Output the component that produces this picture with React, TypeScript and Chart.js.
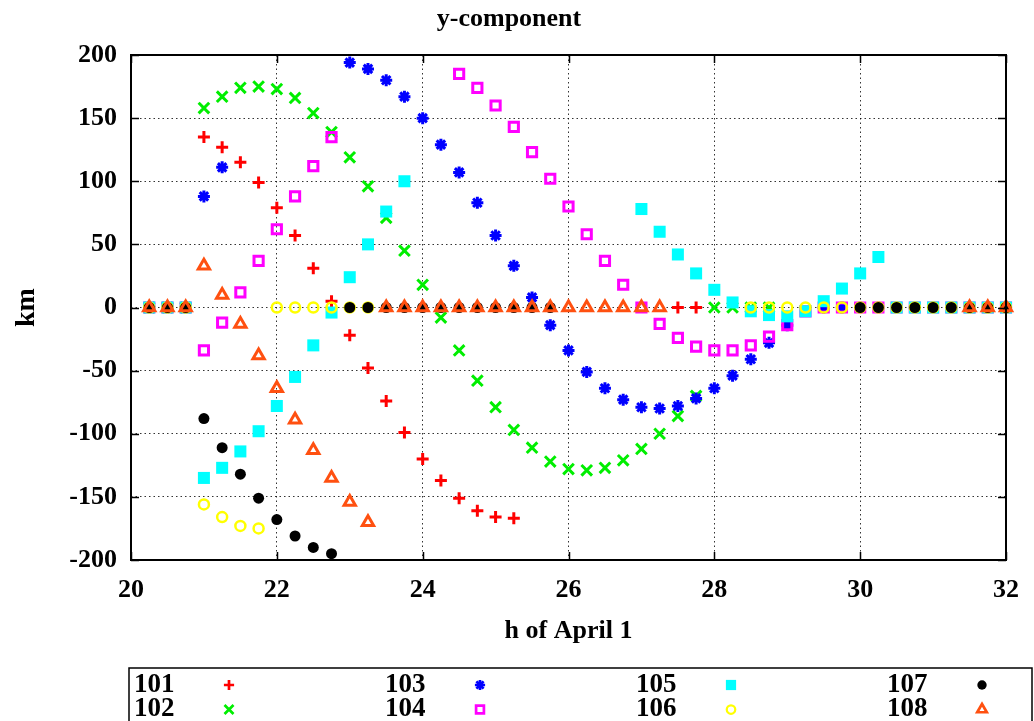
import React, { useEffect, useRef } from 'react';
import { Chart, registerables } from 'chart.js';
import { drawPoint } from 'chart.js/helpers';

Chart.register(...registerables);

// hours of April 1 (sample times)
const hours = [
  20.25, 20.5, 20.75, 21, 21.25, 21.5, 21.75, 22, 22.25, 22.5, 22.75, 23,
  23.25, 23.5, 23.75, 24, 24.25, 24.5, 24.75, 25, 25.25, 25.5, 25.75, 26,
  26.25, 26.5, 26.75, 27, 27.25, 27.5, 27.75, 28, 28.25, 28.5, 28.75, 29,
  29.25, 29.5, 29.75, 30, 30.25, 30.5, 30.75, 31, 31.25, 31.5, 31.75, 32,
];

const N = null;

const s101 = [0, 0, 0, 135, 127, 115, 99, 79, 57, 31, 5, -22, -48, -74, -99, -120, -137, -151, -161, -166, -167,
  N, N, N, N, N, N, N, N, 0, 0, N, N, N, N, N, N, N, N, N, N, N, N, N, N, N, N, N];
const s102 = [0, 0, 0, 158, 167, 174, 175, 173, 166, 154, 139, 119, 96, 71, 45, 18, -8, -34, -58, -79, -97,
  -111, -122, -128, -129, -127, -121, -112, -100, -86, -70, 0, 0, 0, 0, N, N, N, N, N, N, N, N, N, N, N, N, N];
const s103 = [0, 0, 0, 88, 111, N, N, N, N, N, N, 194, 189, 180, 167, 150, 129, 107, 83, 57, 33, 8, -14, -34,
  -51, -64, -73, -79, -80, -78, -72, -64, -54, -41, -28, -14, N, 0, 0, 0, 0, 0, 0, 0, 0, 0, 0, 0];
const s104 = [0, 0, 0, -34, -12, 12, 37, 62, 88, 112, 135, N, N, N, N, N, N, 185, 174, 160, 143, 123, 102, 80,
  58, 37, 18, 0, -13, -24, -31, -34, -34, -30, -23, -14, -3, 0, 0, 0, 0, 0, 0, 0, 0, 0, 0, 0];
const s105 = [0, 0, 0, -135, -127, -114, -98, -78, -55, -30, -4, 24, 50, 76, 100, N, N, N, N, N, N, N, N, N,
  N, N, N, 78, 60, 42, 27, 14, 4, -3, -6, -7, -3, 5, 15, 27, 40, 0, 0, 0, 0, 0, 0, 0];
const s106 = [0, 0, 0, -156, -166, -173, -175, 0, 0, 0, 0, 0, 0, N, N, N, N, N, N, N, N, N, N, N,
  N, N, N, N, N, N, N, N, N, 0, 0, 0, 0, 0, 0, 0, 0, 0, 0, 0, 0, 0, 0, 0];
const s107 = [0, 0, 0, -88, -111, -132, -151, -168, -181, -190, -195, 0, 0, 0, 0, 0, 0, 0, 0, 0, 0, 0, 0, N,
  N, N, N, N, N, N, N, N, N, N, N, N, N, N, N, 0, 0, 0, 0, 0, 0, 0, 0, 0];
const s108 = [0, 0, 0, 33, 10, -13, -38, -64, -89, -113, -135, -154, -170, 0, 0, 0, 0, 0, 0, 0, 0, 0, 0, 0,
  0, 0, 0, 0, 0, N, N, N, N, N, N, N, N, N, N, N, N, N, N, N, N, 0, 0, 0];

const seriesNames = ['101', '102', '103', '104', '105', '106', '107', '108'];
const seriesValues = [s101, s102, s103, s104, s105, s106, s107, s108];
const seriesColors = ['#ff0000', '#00ee00', '#0000ff', '#ff00ff', '#00ffff', '#ffff00', '#000000', '#ff5010'];

const xTicks = [20, 22, 24, 26, 28, 30, 32];
const yTicks = [-200, -150, -100, -50, 0, 50, 100, 150, 200];

const chartTitle = 'y-component';
const xTitle = 'h of April 1';
const yTitle = 'km';

const FONT = "'Liberation Serif', 'Times New Roman', serif";

const markerStyles = [
  { pointStyle: 'cross', radius: 6, borderWidth: 3, fill: false },
  { pointStyle: 'crossRot', radius: 7.5, borderWidth: 3, fill: false },
  { pointStyle: 'star', radius: 6, borderWidth: 3, fill: false },
  { pointStyle: 'rect', radius: 6.5, borderWidth: 3, fill: false },
  { pointStyle: 'rect', radius: 8.5, borderWidth: 0, fill: true },
  { pointStyle: 'circle', radius: 5, borderWidth: 2.5, fill: false },
  { pointStyle: 'circle', radius: 5.5, borderWidth: 0, fill: true },
  { pointStyle: 'triangle', radius: 6.5, borderWidth: 3, fill: false },
];

const legendMarkerScale = 0.85;

const framePlugin = {
  id: 'frame',
  afterDraw(chart: any) {
    const { ctx, chartArea } = chart;
    const { left, right, top, bottom } = chartArea;
    const xs = chart.scales.x;
    const ys = chart.scales.y;
    ctx.save();
    ctx.strokeStyle = '#000';
    ctx.lineWidth = 1.5;
    ctx.beginPath();
    xTicks.forEach((v) => {
      const px = Math.round(xs.getPixelForValue(v)) + 0.5;
      ctx.moveTo(px, bottom);
      ctx.lineTo(px, bottom - 8);
      ctx.moveTo(px, top);
      ctx.lineTo(px, top + 8);
    });
    yTicks.forEach((v) => {
      const py = Math.round(ys.getPixelForValue(v)) + 0.5;
      ctx.moveTo(left, py);
      ctx.lineTo(left + 8, py);
      ctx.moveTo(right, py);
      ctx.lineTo(right - 8, py);
    });
    ctx.stroke();
    ctx.lineWidth = 2;
    ctx.strokeRect(left, top, right - left, bottom - top);
    ctx.restore();
  },
};

const legendPlugin = {
  id: 'boxLegend',
  afterDraw(chart: any) {
    const { ctx } = chart;
    ctx.save();
    ctx.strokeStyle = '#000';
    ctx.lineWidth = 1.5;
    ctx.strokeRect(129, 668, 903, 70);
    ctx.font = `bold 27px ${FONT}`;
    ctx.textBaseline = 'middle';
    ctx.textAlign = 'left';
    chart.data.datasets.forEach((ds: any, i: number) => {
      const col = Math.floor(i / 2);
      const row = i % 2;
      const x0 = 134 + col * 251;
      const y = 685 + row * 24.5;
      ctx.fillStyle = '#000';
      ctx.fillText(ds.label, x0, y);
      const st = markerStyles[i];
      ctx.strokeStyle = seriesColors[i];
      ctx.fillStyle = st.fill ? seriesColors[i] : 'rgba(0,0,0,0)';
      ctx.lineWidth = st.borderWidth * 0.9;
      drawPoint(ctx, { pointStyle: st.pointStyle, radius: st.radius * legendMarkerScale, borderWidth: st.borderWidth, rotation: 0 } as any, x0 + 95, y);
    });
    ctx.restore();
  },
};

export default function App() {
  const ref = useRef<HTMLCanvasElement>(null);
  useEffect(() => {
    document.body.style.margin = '0';
    if (!ref.current) return;
    const datasets = seriesNames.map((name, i) => {
      const st = markerStyles[i];
      const ys = seriesValues[i];
      return {
        label: name,
        data: hours.map((h, k) => ({ x: h, y: ys[k] })),
        pointStyle: st.pointStyle,
        pointRadius: st.radius,
        pointBorderWidth: st.borderWidth,
        pointBorderColor: seriesColors[i],
        pointBackgroundColor: st.fill ? seriesColors[i] : 'rgba(0,0,0,0)',
        showLine: false,
        order: seriesNames.length - i,
        clip: false,
      };
    });
    const tickFont = { family: FONT, size: 26, weight: 'bold' as const };
    const chart = new Chart(ref.current, {
      type: 'scatter',
      data: { datasets: datasets as any },
      options: {
        animation: false,
        responsive: false,
        events: [],
        layout: { padding: { top: 0, right: 16, bottom: 61, left: 0 } },
        plugins: {
          legend: { display: false },
          tooltip: { enabled: false },
          title: {
            display: true,
            text: chartTitle,
            color: '#000',
            font: tickFont,
            padding: { top: 4, bottom: 19.8 },
          },
        },
        scales: {
          x: {
            type: 'linear',
            min: 20,
            max: 32,
            afterBuildTicks: (s: any) => { s.ticks = xTicks.map((v) => ({ value: v })); },
            afterFit: (s: any) => { s.height = 100; },
            ticks: { font: tickFont, color: '#000', padding: 15, maxRotation: 0, autoSkip: false },
            grid: { color: 'rgba(0,0,0,0.8)', lineWidth: 1, drawTicks: false },
            border: { display: false, dash: [1.5, 3] },
            title: { display: true, text: xTitle, color: '#000', font: tickFont, padding: { top: 13, bottom: 13 } },
          },
          y: {
            type: 'linear',
            min: -200,
            max: 200,
            afterBuildTicks: (s: any) => { s.ticks = yTicks.map((v) => ({ value: v })); },
            afterFit: (s: any) => { s.width = 131; },
            ticks: { font: tickFont, color: '#000', padding: 14, autoSkip: false },
            grid: { color: 'rgba(0,0,0,0.8)', lineWidth: 1, drawTicks: false },
            border: { display: false, dash: [1.5, 3] },
            title: { display: true, text: yTitle, color: '#000', font: { family: FONT, size: 28, weight: 'bold' }, padding: { top: 10, bottom: 10 } },
          },
        },
      },
      plugins: [framePlugin, legendPlugin],
    });
    return () => chart.destroy();
  }, []);
  return <canvas ref={ref} width={1034} height={721} style={{ display: 'block' }} />;
}
